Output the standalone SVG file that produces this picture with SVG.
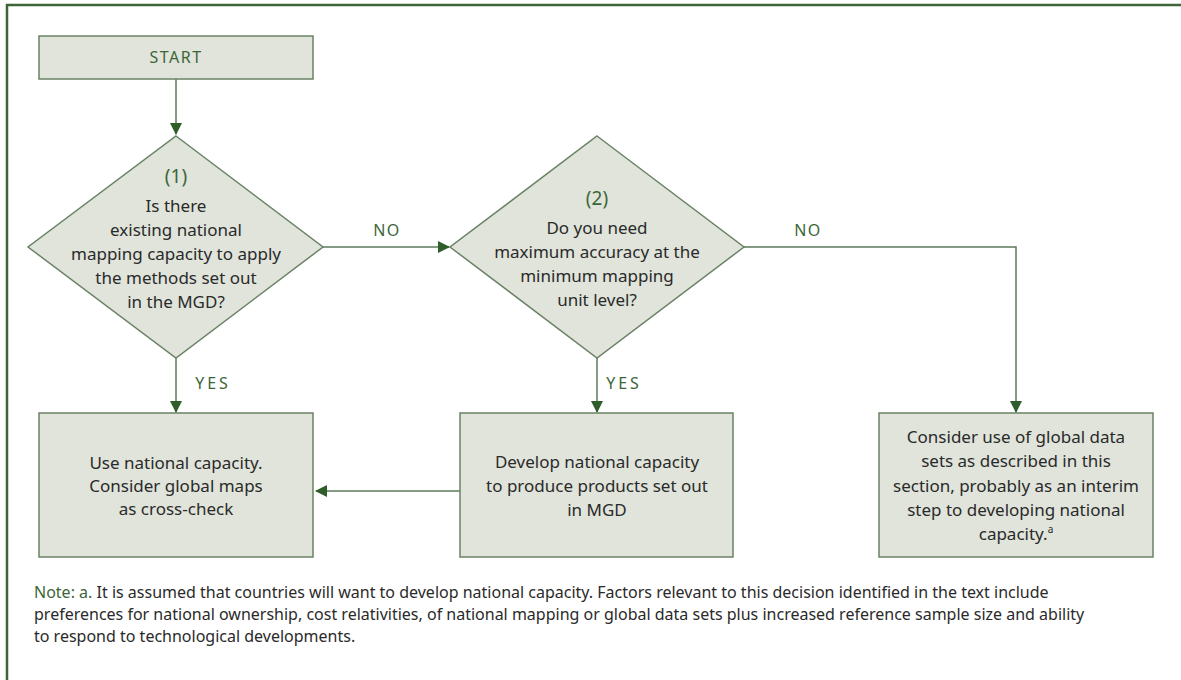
<svg xmlns="http://www.w3.org/2000/svg" width="1181" height="680" viewBox="0 0 1181 680">
<style>
.node{fill:#e0e4da;stroke:#6b8266;stroke-width:1.5}
.edge{fill:none;stroke:#5e7a5a;stroke-width:1.5}
.t{font-family:"Noto Sans","DejaVu Sans",sans-serif;font-size:17px;fill:#2a2a2a;text-anchor:middle}
.g{font-family:"Noto Sans","DejaVu Sans",sans-serif;font-size:16px;fill:#3c6638;text-anchor:middle;letter-spacing:1.5px}
.n{font-family:"Noto Sans","DejaVu Sans",sans-serif;font-size:16px;fill:#2a2a2a}
</style>
<defs>
<marker id="ah" markerWidth="12" markerHeight="12" refX="11" refY="6" orient="auto" markerUnits="userSpaceOnUse">
<path d="M0,0 L12,6 L0,12 Z" fill="#2f5e2b"/>
</marker>
</defs>
<rect width="1181" height="680" fill="#ffffff"/>
<path d="M7,682 V5 H1182" fill="none" stroke="#3c6638" stroke-width="2.5"/>
<g id="connectors">
<path class="edge" d="M176,79 V134" marker-end="url(#ah)"/>
<path class="edge" d="M323,247 H449" marker-end="url(#ah)"/>
<path class="edge" d="M744,247 H1016 V412" marker-end="url(#ah)"/>
<path class="edge" d="M176,358 V412" marker-end="url(#ah)"/>
<path class="edge" d="M597,358 V412" marker-end="url(#ah)"/>
<path class="edge" d="M460,491 H316" marker-end="url(#ah)"/>
<text class="g" x="387" y="236">NO</text>
<text class="g" x="808" y="236">NO</text>
<text class="g" x="213" y="389" style="letter-spacing:3px">YES</text>
<text class="g" x="624" y="389" style="letter-spacing:3px">YES</text>
</g>
<g id="start">
<rect class="node" x="39" y="36" width="274" height="43"/>
<text class="g" x="176" y="63">START</text>
</g>
<g id="decision1">
<path class="node" d="M176,136 L323,247 L176,358 L28,247 Z"/>
<text class="g" x="176" y="183" style="font-size:19px;letter-spacing:0">(1)</text>
<text class="t" x="176" y="212">Is there</text>
<text class="t" x="176" y="236">existing national</text>
<text class="t" x="176" y="260">mapping capacity to apply</text>
<text class="t" x="176" y="284">the methods set out</text>
<text class="t" x="176" y="308">in the MGD?</text>
</g>
<g id="decision2">
<path class="node" d="M597,136 L744,247 L597,358 L450,247 Z"/>
<text class="g" x="597" y="205" style="font-size:19px;letter-spacing:0">(2)</text>
<text class="t" x="597" y="234">Do you need</text>
<text class="t" x="597" y="258">maximum accuracy at the</text>
<text class="t" x="597" y="282">minimum mapping</text>
<text class="t" x="597" y="306">unit level?</text>
</g>
<g id="box1">
<rect class="node" x="39" y="413" width="274" height="144"/>
<text class="t" x="176" y="469">Use national capacity.</text>
<text class="t" x="176" y="492">Consider global maps</text>
<text class="t" x="176" y="515">as cross-check</text>
</g>
<g id="box2">
<rect class="node" x="460" y="413" width="273" height="144"/>
<text class="t" x="597" y="468">Develop national capacity</text>
<text class="t" x="597" y="492">to produce products set out</text>
<text class="t" x="597" y="516">in MGD</text>
</g>
<g id="box3">
<rect class="node" x="879" y="413" width="274" height="144"/>
<text class="t" x="1016" y="443">Consider use of global data</text>
<text class="t" x="1016" y="467">sets as described in this</text>
<text class="t" x="1016" y="492">section, probably as an interim</text>
<text class="t" x="1016" y="516">step to developing national</text>
<text class="t" x="1016" y="540">capacity.<tspan dy="-7" style="font-size:10px">a</tspan></text>
</g>
<g id="note">
<text class="n" x="34" y="598"><tspan fill="#3c6638">Note: a.</tspan> It is assumed that countries will want to develop national capacity. Factors relevant to this decision identified in the text include</text>
<text class="n" x="34" y="620">preferences for national ownership, cost relativities, of national mapping or global data sets plus increased reference sample size and ability</text>
<text class="n" x="34" y="642">to respond to technological developments.</text>
</g>
</svg>
